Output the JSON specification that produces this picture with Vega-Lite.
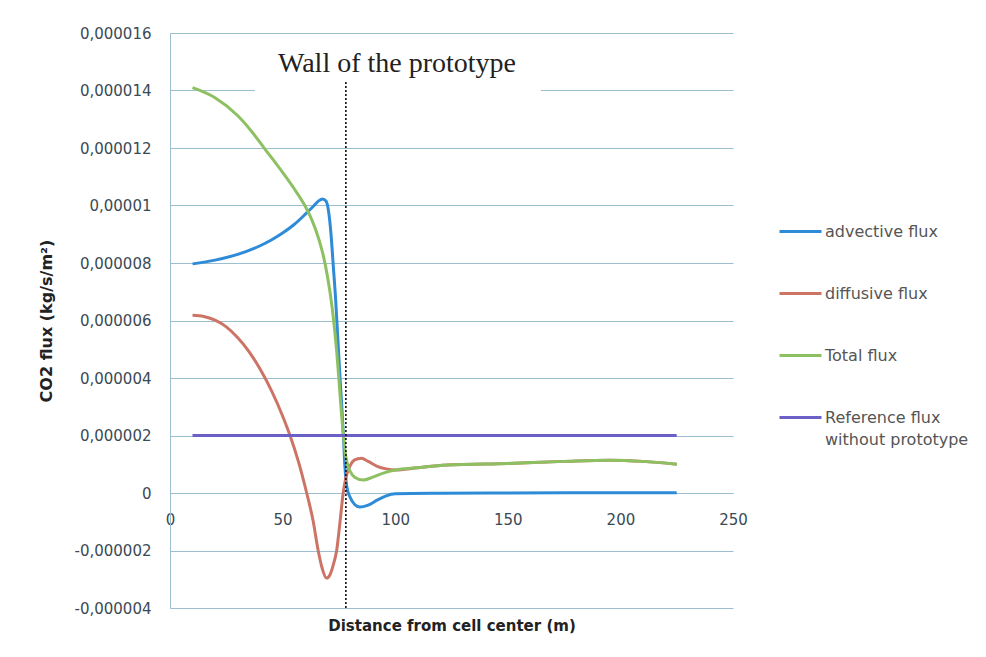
{
  "$schema": "https://vega.github.io/schema/vega-lite/v6.json",
  "width": 563,
  "height": 575,
  "autosize": "none",
  "padding": {"left": 170, "top": 33, "right": 253, "bottom": 49},
  "background": "white",
  "config": {
    "view": {"stroke": null},
    "font": "DejaVu Sans",
    "axis": {"labelFont": "DejaVu Sans", "titleFont": "DejaVu Sans"}
  },
  "datasets": {
    "flux": [
      {"d": 10, "s": "advective flux", "v": 7.97e-6},
      {"d": 20, "s": "advective flux", "v": 8.1e-6},
      {"d": 30, "s": "advective flux", "v": 8.3e-6},
      {"d": 40, "s": "advective flux", "v": 8.6e-6},
      {"d": 45, "s": "advective flux", "v": 8.8e-6},
      {"d": 50, "s": "advective flux", "v": 9.04e-6},
      {"d": 55, "s": "advective flux", "v": 9.33e-6},
      {"d": 60, "s": "advective flux", "v": 9.69e-6},
      {"d": 64, "s": "advective flux", "v": 10.0e-6},
      {"d": 66, "s": "advective flux", "v": 10.16e-6},
      {"d": 67.8, "s": "advective flux", "v": 10.23e-6},
      {"d": 69.3, "s": "advective flux", "v": 10.15e-6},
      {"d": 70.3, "s": "advective flux", "v": 9.85e-6},
      {"d": 71.5, "s": "advective flux", "v": 9.0e-6},
      {"d": 72.5, "s": "advective flux", "v": 7.9e-6},
      {"d": 73.5, "s": "advective flux", "v": 6.8e-6},
      {"d": 74.5, "s": "advective flux", "v": 5.4e-6},
      {"d": 75.5, "s": "advective flux", "v": 4.0e-6},
      {"d": 76.3, "s": "advective flux", "v": 3.0e-6},
      {"d": 77, "s": "advective flux", "v": 2.0e-6},
      {"d": 77.6, "s": "advective flux", "v": 1.0e-6},
      {"d": 78.2, "s": "advective flux", "v": 0.4e-6},
      {"d": 79, "s": "advective flux", "v": 0.05e-6},
      {"d": 80, "s": "advective flux", "v": -0.15e-6},
      {"d": 82, "s": "advective flux", "v": -0.4e-6},
      {"d": 84.3, "s": "advective flux", "v": -0.49e-6},
      {"d": 88, "s": "advective flux", "v": -0.42e-6},
      {"d": 92, "s": "advective flux", "v": -0.25e-6},
      {"d": 96, "s": "advective flux", "v": -0.1e-6},
      {"d": 100, "s": "advective flux", "v": -0.03e-6},
      {"d": 120, "s": "advective flux", "v": -0.01e-6},
      {"d": 150, "s": "advective flux", "v": 0.0},
      {"d": 190, "s": "advective flux", "v": 0.01e-6},
      {"d": 225, "s": "advective flux", "v": 0.01e-6},

      {"d": 10, "s": "diffusive flux", "v": 6.18e-6},
      {"d": 15, "s": "diffusive flux", "v": 6.14e-6},
      {"d": 20, "s": "diffusive flux", "v": 6.01e-6},
      {"d": 25, "s": "diffusive flux", "v": 5.78e-6},
      {"d": 30, "s": "diffusive flux", "v": 5.41e-6},
      {"d": 35, "s": "diffusive flux", "v": 4.93e-6},
      {"d": 40, "s": "diffusive flux", "v": 4.31e-6},
      {"d": 45, "s": "diffusive flux", "v": 3.57e-6},
      {"d": 50, "s": "diffusive flux", "v": 2.68e-6},
      {"d": 53.3, "s": "diffusive flux", "v": 2.0e-6},
      {"d": 57, "s": "diffusive flux", "v": 1.1e-6},
      {"d": 60.7, "s": "diffusive flux", "v": 0.0},
      {"d": 63.5, "s": "diffusive flux", "v": -0.95e-6},
      {"d": 65.8, "s": "diffusive flux", "v": -2.0e-6},
      {"d": 67.5, "s": "diffusive flux", "v": -2.6e-6},
      {"d": 69.5, "s": "diffusive flux", "v": -2.96e-6},
      {"d": 71, "s": "diffusive flux", "v": -2.85e-6},
      {"d": 72.5, "s": "diffusive flux", "v": -2.5e-6},
      {"d": 74, "s": "diffusive flux", "v": -2.0e-6},
      {"d": 75.5, "s": "diffusive flux", "v": -1.0e-6},
      {"d": 76.9, "s": "diffusive flux", "v": 0.0},
      {"d": 78, "s": "diffusive flux", "v": 0.5e-6},
      {"d": 80, "s": "diffusive flux", "v": 0.95e-6},
      {"d": 82, "s": "diffusive flux", "v": 1.15e-6},
      {"d": 85, "s": "diffusive flux", "v": 1.21e-6},
      {"d": 88, "s": "diffusive flux", "v": 1.1e-6},
      {"d": 92, "s": "diffusive flux", "v": 0.93e-6},
      {"d": 96, "s": "diffusive flux", "v": 0.84e-6},
      {"d": 100, "s": "diffusive flux", "v": 0.8e-6},
      {"d": 110, "s": "diffusive flux", "v": 0.88e-6},
      {"d": 123, "s": "diffusive flux", "v": 0.97e-6},
      {"d": 150, "s": "diffusive flux", "v": 1.03e-6},
      {"d": 175, "s": "diffusive flux", "v": 1.1e-6},
      {"d": 195, "s": "diffusive flux", "v": 1.14e-6},
      {"d": 210, "s": "diffusive flux", "v": 1.1e-6},
      {"d": 225, "s": "diffusive flux", "v": 1.0e-6},

      {"d": 10, "s": "Total flux", "v": 14.1e-6},
      {"d": 20, "s": "Total flux", "v": 13.75e-6},
      {"d": 30, "s": "Total flux", "v": 13.13e-6},
      {"d": 36, "s": "Total flux", "v": 12.6e-6},
      {"d": 42, "s": "Total flux", "v": 11.98e-6},
      {"d": 50, "s": "Total flux", "v": 11.15e-6},
      {"d": 55, "s": "Total flux", "v": 10.6e-6},
      {"d": 60, "s": "Total flux", "v": 9.98e-6},
      {"d": 63, "s": "Total flux", "v": 9.5e-6},
      {"d": 66, "s": "Total flux", "v": 8.85e-6},
      {"d": 68, "s": "Total flux", "v": 8.28e-6},
      {"d": 70, "s": "Total flux", "v": 7.5e-6},
      {"d": 72, "s": "Total flux", "v": 6.45e-6},
      {"d": 74, "s": "Total flux", "v": 4.95e-6},
      {"d": 75, "s": "Total flux", "v": 3.95e-6},
      {"d": 76, "s": "Total flux", "v": 2.9e-6},
      {"d": 77, "s": "Total flux", "v": 2.0e-6},
      {"d": 78, "s": "Total flux", "v": 1.3e-6},
      {"d": 79, "s": "Total flux", "v": 0.95e-6},
      {"d": 80, "s": "Total flux", "v": 0.75e-6},
      {"d": 82, "s": "Total flux", "v": 0.55e-6},
      {"d": 85.8, "s": "Total flux", "v": 0.45e-6},
      {"d": 90, "s": "Total flux", "v": 0.55e-6},
      {"d": 95, "s": "Total flux", "v": 0.7e-6},
      {"d": 100, "s": "Total flux", "v": 0.8e-6},
      {"d": 110, "s": "Total flux", "v": 0.88e-6},
      {"d": 123, "s": "Total flux", "v": 0.97e-6},
      {"d": 150, "s": "Total flux", "v": 1.03e-6},
      {"d": 175, "s": "Total flux", "v": 1.1e-6},
      {"d": 195, "s": "Total flux", "v": 1.14e-6},
      {"d": 210, "s": "Total flux", "v": 1.1e-6},
      {"d": 225, "s": "Total flux", "v": 1.0e-6},

      {"d": 10, "s": "Reference flux without prototype", "v": 2.0e-6},
      {"d": 225, "s": "Reference flux without prototype", "v": 2.0e-6}
    ],
    "box": [{"x1": 37.7, "x2": 164.7, "y1": 13.3e-6, "y2": 15.95e-6}],
    "wall": [{"x": 78.1, "y1": 14.3e-6, "y2": -4.0e-6}],
    "label": [{"x": 100.8, "y": 14.64e-6, "t": "Wall of the prototype"}]
  },
  "layer": [
    {
      "data": {"name": "flux"},
      "mark": {"type": "line", "interpolate": "monotone", "strokeWidth": 3},
      "encoding": {
        "x": {
          "field": "d", "type": "quantitative",
          "scale": {"domain": [0, 250], "nice": false, "zero": false},
          "axis": {
            "title": "Distance from cell center (m)",
            "values": [0, 50, 100, 150, 200, 250],
            "grid": false,
            "ticks": false,
            "labelFlush": false,
            "offset": -115,
            "domainColor": "#9CBFD0",
            "domainWidth": 1,
            "labelPadding": 19,
            "labelFontSize": 15,
            "labelColor": "#3a4a55",
            "titleFontSize": 15,
            "titleFontWeight": "bold",
            "titleColor": "#222222",
            "titleBaseline": "middle",
            "titleY": 132
          }
        },
        "y": {
          "field": "v", "type": "quantitative",
          "scale": {"domain": [-4e-6, 16e-6], "nice": false, "zero": false},
          "axis": {
            "title": "CO2 flux (kg/s/m²)",
            "values": [-4e-6, -2e-6, 0, 2e-6, 4e-6, 6e-6, 8e-6, 10e-6, 12e-6, 14e-6, 16e-6],
            "labelExpr": "replace(replace(format(datum.value, '.6~f'), '.', ','), '\u2212', '-')",
            "grid": true,
            "gridColor": "#9CBFD0",
            "gridWidth": 1,
            "domainColor": "#9CBFD0",
            "ticks": false,
            "labelPadding": 19,
            "labelFontSize": 15,
            "labelColor": "#3a4a55",
            "titleFontSize": 16,
            "titleFontWeight": "bold",
            "titleColor": "#222222",
            "titleX": -116
          }
        },
        "stroke": {
          "field": "s", "type": "nominal",
          "scale": {
            "domain": ["advective flux", "diffusive flux", "Total flux", "Reference flux without prototype"],
            "range": ["#2E8BD8", "#CC7466", "#8DC060", "#6B5FC8"]
          },
          "legend": {
            "title": null,
            "orient": "none",
            "legendX": 608,
            "legendY": 176,
            "symbolType": "stroke",
            "symbolSize": 1764,
            "symbolStrokeWidth": 3,
            "rowPadding": 31,
            "labelFontSize": 16,
            "labelColor": "#555555",
            "labelOffset": 2,
            "labelLimit": 300,
            "labelExpr": "datum.label == 'Reference flux without prototype' ? ['Reference flux', 'without prototype'] : datum.label",
            "encode": {"labels": {"update": {"lineHeight": {"value": 22}}}}
          }
        }
      }
    },
    {
      "data": {"name": "box"},
      "mark": {"type": "rect", "fill": "white"},
      "encoding": {
        "x": {"field": "x1", "type": "quantitative"},
        "x2": {"field": "x2"},
        "y": {"field": "y1", "type": "quantitative"},
        "y2": {"field": "y2"}
      }
    },
    {
      "data": {"name": "wall"},
      "mark": {"type": "rule", "color": "#111111", "strokeWidth": 1.6, "strokeDash": [2, 2]},
      "encoding": {
        "x": {"field": "x", "type": "quantitative"},
        "y": {"field": "y1", "type": "quantitative"},
        "y2": {"field": "y2"}
      }
    },
    {
      "data": {"name": "label"},
      "mark": {"type": "text", "font": "Liberation Serif", "fontSize": 28, "color": "#222222", "baseline": "alphabetic", "align": "center"},
      "encoding": {
        "x": {"field": "x", "type": "quantitative"},
        "y": {"field": "y", "type": "quantitative"},
        "text": {"field": "t"}
      }
    }
  ]
}
